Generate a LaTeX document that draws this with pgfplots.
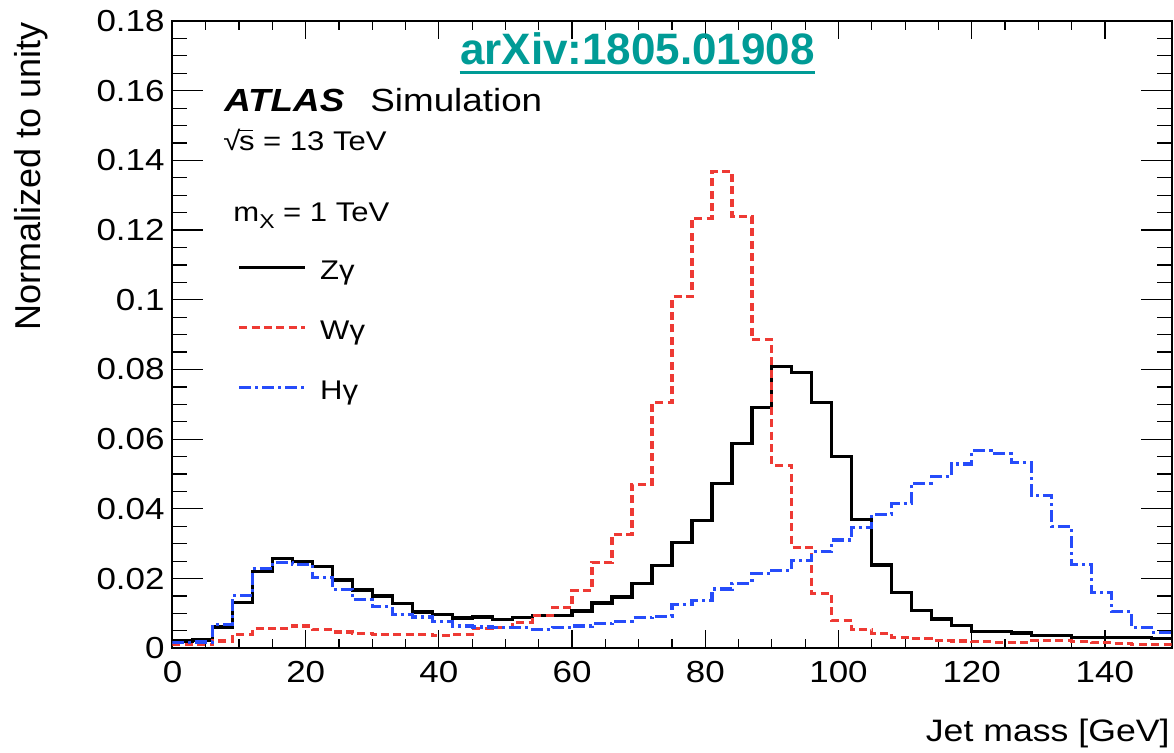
\documentclass[border=0pt]{standalone}
\usepackage{fontspec}
\setmainfont{Liberation Sans}[FakeStretch=1.15]
\newfontfamily\plainsans{Liberation Sans}
\usepackage{pgfplots}
\pgfplotsset{compat=1.18}
\definecolor{wred}{RGB}{238,58,52}
\definecolor{hblue}{RGB}{38,76,250}
\definecolor{arxteal}{RGB}{0,155,150}

\pgfplotstableread{
x y
0 0.0021
3 0.0024
6 0.0061
9 0.0131
12 0.0220
15 0.0257
18 0.0249
21 0.0234
24 0.0196
27 0.0167
30 0.0150
33 0.0129
36 0.0104
39 0.0096
42 0.0087
45 0.0090
48 0.0083
51 0.0089
54 0.0094
57 0.0095
60 0.0107
63 0.0130
66 0.0147
69 0.0185
72 0.0238
75 0.0303
78 0.0366
81 0.0473
84 0.0587
87 0.0690
90 0.0809
93 0.0791
96 0.0705
99 0.0551
102 0.0370
105 0.0239
108 0.0161
111 0.0108
114 0.0084
117 0.0065
120 0.0049
123 0.0049
126 0.0044
129 0.0037
132 0.0036
135 0.0030
138 0.0032
141 0.0032
144 0.0030
147 0.0027
150 0.0027
}\zgam

\pgfplotstableread{
x y
0 0.0010
3 0.0010
6 0.0021
9 0.0040
12 0.0056
15 0.0056
18 0.0064
21 0.0054
24 0.0047
27 0.0043
30 0.0040
33 0.0040
36 0.0040
39 0.0037
42 0.0040
45 0.0056
48 0.0059
51 0.0073
54 0.0095
57 0.0116
60 0.0166
63 0.0247
66 0.0326
69 0.0471
72 0.0705
75 0.1009
78 0.1234
81 0.1368
84 0.1239
87 0.0886
90 0.0525
93 0.0290
96 0.0157
99 0.0080
102 0.0054
105 0.0043
108 0.0031
111 0.0027
114 0.0022
117 0.0021
120 0.0019
123 0.0017
126 0.0017
129 0.0022
132 0.0022
135 0.0020
138 0.0017
141 0.0014
144 0.0012
147 0.0012
150 0.0012
}\wgam

\pgfplotstableread{
x y
0 0.0016
3 0.0018
6 0.0069
9 0.0152
12 0.0228
15 0.0247
18 0.0241
21 0.0204
24 0.0169
27 0.0140
30 0.0119
33 0.0097
36 0.0090
39 0.0078
42 0.0064
45 0.0061
48 0.0059
51 0.0059
54 0.0054
57 0.0060
60 0.0064
63 0.0070
66 0.0078
69 0.0089
72 0.0092
75 0.0126
78 0.0136
81 0.0170
84 0.0187
87 0.0214
90 0.0224
93 0.0253
96 0.0278
99 0.0311
102 0.0347
105 0.0385
108 0.0416
111 0.0474
114 0.0493
117 0.0529
120 0.0567
123 0.0558
126 0.0532
129 0.0438
132 0.0349
135 0.0240
138 0.0161
141 0.0106
144 0.0060
147 0.0046
150 0.0046
}\hgam

\begin{document}
\begin{tikzpicture}
\path[use as bounding box] (-86.25pt,-52.35pt) rectangle (500.75pt,324.15pt);
\begin{axis}[
  at={(0pt,0pt)}, anchor=south west,
  scale only axis, width=499.5pt, height=313.65pt,
  xmin=0, xmax=150, ymin=0, ymax=0.18,
  xtick={0,20,40,60,80,100,120,140},
  ytick={0,0.02,0.04,0.06,0.08,0.1,0.12,0.14,0.16,0.18},
  yticklabels={0,0.02,0.04,0.06,0.08,0.1,0.12,0.14,0.16,0.18},
  minor x tick num=3, minor y tick num=3,
  /pgf/number format/assume math mode=true,
  ticklabel style={font=\fontsize{15.2}{18}\selectfont},
  xticklabel style={inner sep=0pt, yshift=-6.4pt},
  yticklabel style={inner sep=0pt, xshift=-3.75pt},
  axis line style={line width=1pt},
  tick style={line width=0.6pt, black},
  xtick style={/pgfplots/major tick length=9pt, /pgfplots/minor tick length=4.5pt},
  ytick style={/pgfplots/major tick length=15pt, /pgfplots/minor tick length=7pt},
  legend cell align=left,
  legend image code/.code={\draw[#1] (0pt,0pt) -- (33pt,0pt);},
  legend style={at={(axis description cs:0.0651,0.6359)}, anchor=north west,
    draw=none, fill=none, inner sep=0pt, outer sep=0pt,
    row sep=11.7pt, column sep=6.75pt,
    font=\fontsize{13.5}{16}\selectfont,
    nodes={inner sep=0pt, text height=15.3pt, text depth=3pt}},
]
\addplot[const plot, black, line width=1.6pt] table[x=x,y=y] {\zgam};
\addlegendentry{Zγ}
\addplot[const plot, wred, line width=1.6pt, dash pattern=on 4pt off 2.2pt] table[x=x,y=y] {\wgam};
\addlegendentry{Wγ}
\addplot[const plot, hblue, line width=1.6pt, dash pattern=on 6pt off 2pt on 1.5pt off 2pt] table[x=x,y=y] {\hgam};
\addlegendentry{Hγ}
\end{axis}
\node[anchor=base, inner sep=0pt, text=arxteal, font=\plainsans\bfseries\fontsize{22}{26}\selectfont] (arx) at (232.5pt,291.65pt) {arXiv:1805.01908};
\draw[arxteal, line width=1.5pt] ([yshift=-3.85pt]arx.base west) -- ([yshift=-3.85pt]arx.base east);
\node[anchor=base west, inner sep=0pt, font=\bfseries\itshape\fontsize{16}{19}\selectfont] at (25.75pt,268.15pt) {ATLAS};
\node[anchor=base west, inner sep=0pt, font=\fontsize{16}{19}\selectfont] at (98.75pt,268.15pt) {Simulation};
\node[anchor=base west, inner sep=0pt, font=\fontsize{13.5}{16}\selectfont] at (25.25pt,248.8pt) {√\kern-0.05em\rlap{\rule[0.72em]{0.5em}{0.06em}}s = 13 TeV};
\node[anchor=base west, inner sep=0pt, font=\fontsize{13.5}{16}\selectfont] at (30.25pt,213.3pt) {m\raisebox{-0.45ex}{\fontsize{10}{12}\selectfont X} = 1 TeV};
\node[anchor=base east, inner sep=0pt, font=\fontsize{15.5}{18}\selectfont] at (498.75pt,-46.7pt) {Jet mass [GeV]};
\node[anchor=base east, rotate=90, inner sep=0pt, font=\plainsans\fontsize{18}{21}\selectfont] at (-65.9pt,313.3pt) {Normalized to unity};
\end{tikzpicture}
\end{document}
